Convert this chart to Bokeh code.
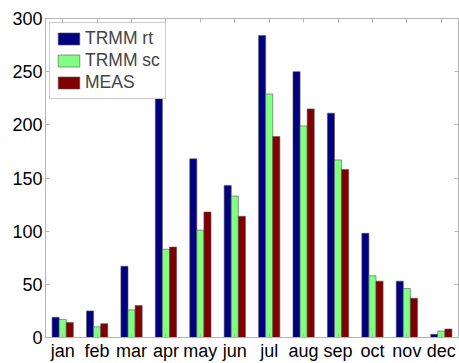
from bokeh.plotting import figure
from bokeh.models import (ColumnDataSource, FactorRange, Range1d, CategoricalAxis, LinearAxis,
                          Legend, LegendItem, FixedTicker, CustomJSTickFormatter)
from bokeh.transform import dodge
from bokeh.embed import file_html
from bokeh.resources import INLINE

months = ["jan", "feb", "mar", "apr", "may", "jun", "jul", "aug", "sep", "oct", "nov", "dec"]
trmm_rt = [19, 25, 67, 240, 168, 143, 284, 250, 211, 98, 53, 3]
trmm_sc = [17, 10, 26, 83, 101, 133, 229, 199, 167, 58, 46, 6]
meas = [14, 13, 30, 85, 118, 114, 189, 215, 158, 53, 37, 8]
y_ticks = [0, 50, 100, 150, 200, 250, 300]

src = ColumnDataSource(dict(m=months, rt=trmm_rt, sc=trmm_sc, me=meas))

FONT = "Liberation Sans"
AX = "#b4b4b4"

p = figure(width=459, height=363, output_backend="svg", toolbar_location=None,
           x_range=FactorRange(*months, range_padding=0), y_range=Range1d(0, 300),
           min_border_left=45, min_border_right=1, min_border_top=18, min_border_bottom=21)
p.outline_line_color = AX
p.xgrid.visible = False
p.ygrid.visible = False
p.background_fill_color = "white"
p.border_fill_color = "white"

w = 0.206
r1 = p.vbar(x=dodge("m", -w, range=p.x_range), top="rt", width=w, source=src,
            fill_color="#000080", line_color="#555555", line_width=0.6)
r2 = p.vbar(x=dodge("m", 0, range=p.x_range), top="sc", width=w, source=src,
            fill_color="#80ff80", line_color="#555555", line_width=0.6)
r3 = p.vbar(x=dodge("m", w, range=p.x_range), top="me", width=w, source=src,
            fill_color="#800000", line_color="#555555", line_width=0.6)

for ax in (p.xaxis[0], p.yaxis[0]):
    ax.axis_line_color = AX
    ax.major_tick_line_color = AX
    ax.major_tick_in = 4
    ax.major_tick_out = 0
    ax.minor_tick_line_color = None
    ax.major_label_text_font = FONT
    ax.major_label_text_font_size = "18px"
    ax.major_label_text_color = "black"
    ax.major_label_standoff = 3
p.yaxis[0].ticker = FixedTicker(ticks=y_ticks)

blank = CustomJSTickFormatter(code="return ''")
top = CategoricalAxis(axis_line_color=None, major_tick_line_color=AX, major_tick_in=4,
                      major_tick_out=0, formatter=blank, major_label_standoff=0)
p.add_layout(top, "above")
right = LinearAxis(ticker=FixedTicker(ticks=y_ticks), axis_line_color=None, major_tick_line_color=AX,
                   major_tick_in=4, major_tick_out=0, minor_tick_line_color=None,
                   formatter=blank, major_label_standoff=0)
p.add_layout(right, "right")

legend = Legend(items=[LegendItem(label="TRMM rt", renderers=[r1]),
                       LegendItem(label="TRMM sc", renderers=[r2]),
                       LegendItem(label="MEAS", renderers=[r3])],
                location="top_left", orientation="vertical",
                label_text_font=FONT, label_text_font_size="17.5px",
                glyph_width=27, glyph_height=15, label_height=20, spacing=1,
                padding=5, margin=4, label_standoff=3,
                border_line_color="#999999", background_fill_alpha=1.0)
p.add_layout(legend, "center")

open("out.html", "w").write(file_html(p, INLINE))
